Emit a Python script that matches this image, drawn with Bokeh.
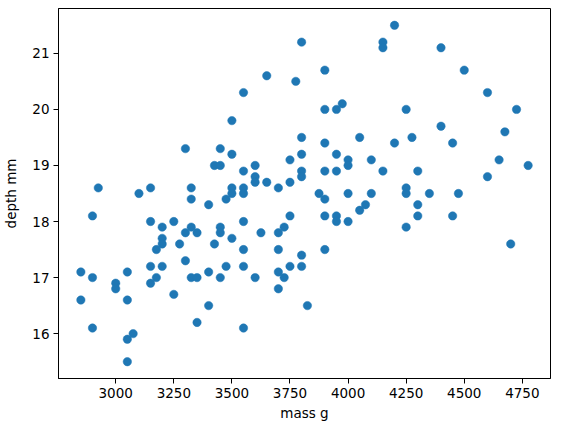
from bokeh.plotting import figure
from bokeh.models import Range1d, FixedTicker
from bokeh.embed import file_html
from bokeh.resources import INLINE

mass_g = [3300, 3450, 3425, 3450, 2925, 3100, 3150, 3325, 3325, 4200,
          3800, 4150, 4150, 3650, 3775, 3900, 3550, 3500, 3900, 3950,
          3975, 3800, 4050, 3900, 4200, 3500, 3800, 3950, 3600, 3750,
          4000, 4000, 4100, 3550, 3600, 3600, 3650, 3800, 3800, 3900,
          3950, 4150, 3700, 3750, 3500, 3500, 3550, 3550, 3875, 4000,
          4100, 3900, 4400, 4500, 4600, 4250, 4725, 4400, 4675, 4275,
          4450, 4650, 4775, 4300, 4600, 4250, 4250, 4350, 4475, 4300,
          4300, 4450, 4250, 4700, 3475, 4075, 4050, 3750, 3900, 3950,
          3950, 4000, 3550, 3625, 3700, 3725, 3500, 3550, 3700, 3900,
          3800, 3800, 3750, 3550, 3475, 3600, 3700, 3725, 3700, 3825,
          3550, 3400, 2900, 3150, 3250, 3200, 3325, 3300, 3350, 3450,
          3450, 3200, 3200, 3175, 3275, 3425, 3300, 2850, 2900, 3000,
          3000, 3050, 3150, 3200, 3175, 3150, 3250, 3325, 3350, 3400,
          3450, 3400, 3350, 2850, 3050, 2900, 3050, 3075, 3050]
depth_mm = [19.3, 19.3, 19.0, 19.0, 18.6, 18.5, 18.6, 18.6, 18.4, 21.5,
            21.2, 21.2, 21.1, 20.6, 20.5, 20.7, 20.3, 19.8, 20.0, 20.0,
            20.1, 19.5, 19.5, 19.4, 19.4, 19.2, 19.2, 19.2, 19.0, 19.1,
            19.1, 19.0, 19.1, 18.9, 18.8, 18.7, 18.7, 18.9, 18.8, 18.9,
            18.9, 18.9, 18.6, 18.7, 18.6, 18.5, 18.6, 18.5, 18.5, 18.5,
            18.5, 18.4, 21.1, 20.7, 20.3, 20.0, 20.0, 19.7, 19.6, 19.5,
            19.4, 19.1, 19.0, 18.9, 18.8, 18.6, 18.5, 18.5, 18.5, 18.3,
            18.1, 18.1, 17.9, 17.6, 18.4, 18.3, 18.2, 18.1, 18.1, 18.1,
            18.0, 18.0, 18.0, 17.8, 17.8, 17.9, 17.7, 17.5, 17.5, 17.5,
            17.4, 17.2, 17.2, 17.2, 17.2, 17.0, 17.1, 17.0, 16.8, 16.5,
            16.1, 18.3, 18.1, 18.0, 18.0, 17.9, 17.9, 17.8, 17.8, 17.9,
            17.8, 17.7, 17.6, 17.5, 17.6, 17.6, 17.3, 17.1, 17.0, 16.9,
            16.8, 17.1, 17.2, 17.2, 17.0, 16.9, 16.7, 17.0, 17.0, 17.1,
            17.0, 16.5, 16.2, 16.6, 16.6, 16.1, 15.9, 16.0, 15.5]
x_ticks = [3000, 3250, 3500, 3750, 4000, 4250, 4500, 4750]
y_ticks = [16, 17, 18, 19, 20, 21]

xmin, xmax = min(mass_g), max(mass_g)
ymin, ymax = min(depth_mm), max(depth_mm)
xpad = 0.05 * (xmax - xmin)
ypad = 0.05 * (ymax - ymin)

p = figure(width=552, height=423, output_backend="svg", toolbar_location=None,
           x_range=Range1d(xmin - xpad, xmax + xpad),
           y_range=Range1d(ymin - ypad, ymax + ypad),
           min_border_left=54, min_border_right=2, min_border_top=8,
           min_border_bottom=45)

p.scatter(mass_g, depth_mm, size=8.4, fill_color="#1f77b4",
          line_color="#1f77b4", line_width=0.5)

p.xgrid.visible = False
p.ygrid.visible = False
p.outline_line_color = "black"
p.outline_line_width = 1
p.outline_line_alpha = 1.0

p.xaxis.ticker = FixedTicker(ticks=x_ticks)
p.yaxis.ticker = FixedTicker(ticks=y_ticks)
p.xaxis.axis_label = "mass g"
p.yaxis.axis_label = "depth mm"

for ax in (p.xaxis, p.yaxis):
    ax.axis_line_color = "black"
    ax.major_tick_line_color = "black"
    ax.major_tick_in = 0
    ax.major_tick_out = 5
    ax.minor_tick_line_color = None
    ax.major_label_text_font = "DejaVu Sans"
    ax.major_label_text_font_size = "13.5px"
    ax.major_label_text_color = "black"
    ax.axis_label_text_font = "DejaVu Sans"
    ax.axis_label_text_font_size = "13.5px"
    ax.axis_label_text_font_style = "normal"
    ax.axis_label_text_color = "black"
p.xaxis.major_label_standoff = 4
p.yaxis.major_label_standoff = 4
p.xaxis.axis_label_standoff = 4
p.yaxis.axis_label_standoff = 10

open("out.html", "w").write(file_html(p, INLINE))
